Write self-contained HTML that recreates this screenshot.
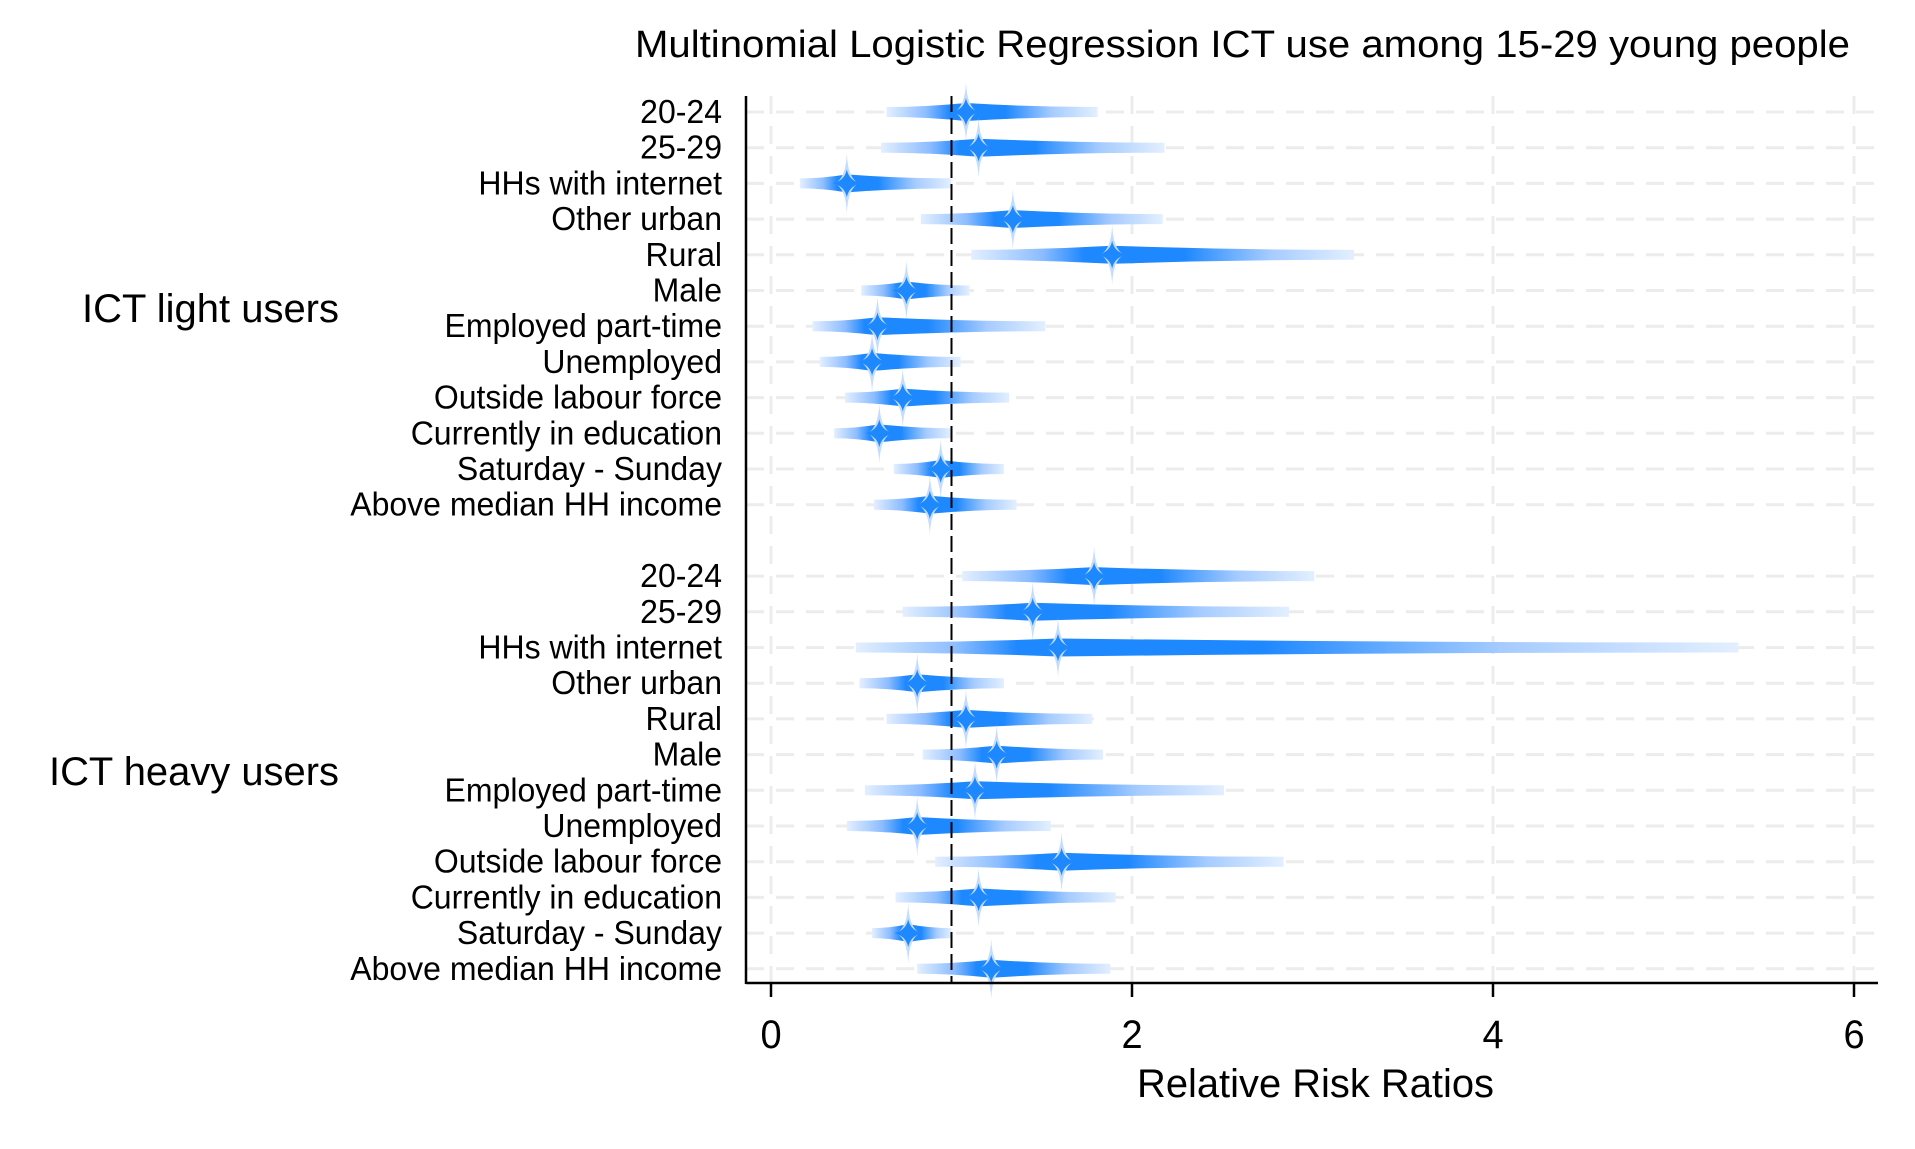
<!DOCTYPE html>
<html><head><meta charset="utf-8"><style>
html,body{margin:0;padding:0;background:#fff;}
svg{display:block;font-family:"Liberation Sans",Arial,sans-serif;}
</style></head><body>
<svg id="chart" width="1915" height="1149" viewBox="0 0 1915 1149" xmlns="http://www.w3.org/2000/svg">
<defs id="defs"></defs>
<rect x="0" y="0" width="1915" height="1149" fill="#fff"/>
<g id="grid"></g>
<g id="marks"></g>
<g id="axes"></g>
<text x="635" y="57" textLength="1215" lengthAdjust="spacingAndGlyphs" font-size="38" fill="#000">Multinomial Logistic Regression ICT use among 15-29 young people</text>
<text x="1137" y="1097" textLength="357" lengthAdjust="spacingAndGlyphs" font-size="40" fill="#000">Relative Risk Ratios</text>
<text x="82" y="322" textLength="257" lengthAdjust="spacingAndGlyphs" font-size="40" fill="#000">ICT light users</text>
<text x="49" y="785" textLength="290" lengthAdjust="spacingAndGlyphs" font-size="40" fill="#000">ICT heavy users</text>
</svg>
<script>
const categories = ["20-24","25-29","HHs with internet","Other urban","Rural","Male","Employed part-time","Unemployed","Outside labour force","Currently in education","Saturday - Sunday","Above median HH income"];
const lightPoint = [1.08,1.15,0.42,1.34,1.89,0.75,0.59,0.56,0.73,0.60,0.94,0.88];
const lightLow   = [0.64,0.61,0.16,0.83,1.11,0.50,0.23,0.27,0.41,0.35,0.68,0.57];
const lightHigh  = [1.81,2.18,1.00,2.17,3.23,1.10,1.52,1.05,1.32,1.00,1.29,1.36];
const heavyPoint = [1.79,1.45,1.59,0.81,1.08,1.25,1.13,0.81,1.61,1.15,0.76,1.22];
const heavyLow   = [1.06,0.73,0.47,0.49,0.64,0.84,0.52,0.42,0.91,0.69,0.56,0.81];
const heavyHigh  = [3.01,2.87,5.36,1.29,1.78,1.84,2.51,1.55,2.84,1.91,1.00,1.88];
const xTicks = [0,2,4,6];

const NS="http://www.w3.org/2000/svg";
const X0=771, PXU=180.5, PL=746, PR=1878, PT=96, PB=983, ROW0=112, STEP=35.7;
const xs=v=>X0+v*PXU;
const ys=i=>ROW0+i*STEP;
function mk(tag,attrs,parent){const e=document.createElementNS(NS,tag);for(const k in attrs)e.setAttribute(k,attrs[k]);parent.appendChild(e);return e;}
const grid=document.getElementById('grid'),marks=document.getElementById('marks'),axes=document.getElementById('axes'),defs=document.getElementById('defs');
const svg=document.getElementById('chart');

for(let i=0;i<25;i++){if(i===12)continue;
  const l=mk('line',{x1:PL,x2:PR,y1:ys(i),y2:ys(i),stroke:'#ececec','stroke-width':3,'stroke-dasharray':'18 12'},grid);
  
  
}
xTicks.forEach(t=>{
  const l=mk('line',{x1:xs(t),x2:xs(t),y1:PT,y2:PB,stroke:'#ececec','stroke-width':3,'stroke-dasharray':'18 12'},grid);
  
  
});
const ref=mk('line',{x1:xs(1),x2:xs(1),y1:PT,y2:PB,stroke:'#000','stroke-width':2,'stroke-dasharray':'16 6'},axes);



function drawRow(i,pt,lo,hi,key){
  const y=ys(i),xp=xs(pt),xl=xs(lo),xh=xs(hi);
  const gid='g'+key+i;
  const g=mk('linearGradient',{id:gid,gradientUnits:'userSpaceOnUse',x1:xl,x2:xh,y1:0,y2:0},defs);
  const f=(xp-xl)/Math.max(1,(xh-xl));
  [[0,'#e3efff'],[f*0.5,'#8cbdff'],[f*0.8,'#1e88ff'],[f+(1-f)*0.3,'#1e88ff'],[f+(1-f)*0.65,'#a5cbff'],[1,'#e3efff']].forEach(s=>mk('stop',{offset:s[0],'stop-color':s[1]},g));
  const grp=mk('g',{},marks);
  
  
  const hE=5, hM=9;
  const d=`M${xl},${y-hE} Q${(xl+xp)/2},${y-hE} ${xp},${y-hM} Q${(xp+xh)/2},${y-hE} ${xh},${y-hE} L${xh},${y+hE} Q${(xp+xh)/2},${y+hE} ${xp},${y+hM} Q${(xl+xp)/2},${y+hE} ${xl},${y+hE} Z`;
  const bar=mk('path',{d:d,fill:`url(#${gid})`},grp);
  
  
  const H=30,W=12;
  const sp=`M${xp},${y-H} Q${xp+1},${y-5} ${xp+W},${y} Q${xp+1},${y+5} ${xp},${y+H} Q${xp-1},${y+5} ${xp-W},${y} Q${xp-1},${y-5} ${xp},${y-H} Z`;
  const s1=mk('path',{d:sp,fill:'#c4ddff'},grp);
  
  
  const h2=14,w2=14;
  const sp2=`M${xp},${y-h2} Q${xp+2},${y-3} ${xp+w2},${y} Q${xp+2},${y+3} ${xp},${y+h2} Q${xp-2},${y+3} ${xp-w2},${y} Q${xp-2},${y-3} ${xp},${y-h2} Z`;
  const s2=mk('path',{d:sp2,fill:'#1e88ff'},grp);
  
  
}
categories.forEach((c,i)=>{
  drawRow(i,lightPoint[i],lightLow[i],lightHigh[i],'light');
  drawRow(i+13,heavyPoint[i],heavyLow[i],heavyHigh[i],'heavy');
  [i,i+13].forEach(r=>{
    const t=mk('text',{transform:`translate(722,${ys(r)+11}) scale(0.97,1)`,'text-anchor':'end','font-size':33,fill:'#000'},svg);
    t.textContent=c;
    
    
  });
});
const ya=mk('line',{x1:PL,x2:PL,y1:PT,y2:PB+1,stroke:'#000','stroke-width':2.5},axes);


const xa=mk('line',{x1:PL,x2:PR,y1:PB,y2:PB,stroke:'#000','stroke-width':2.5},axes);


xTicks.forEach(t=>{
  const tk=mk('line',{x1:xs(t),x2:xs(t),y1:PB,y2:PB+14,stroke:'#000','stroke-width':2.5},axes);
  
  
  const lb=mk('text',{transform:`translate(${xs(t)},1048) scale(0.95,1)`,'text-anchor':'middle','font-size':40,fill:'#000'},axes);
  lb.textContent=String(t);
  
  
});
</script>
</body></html>
